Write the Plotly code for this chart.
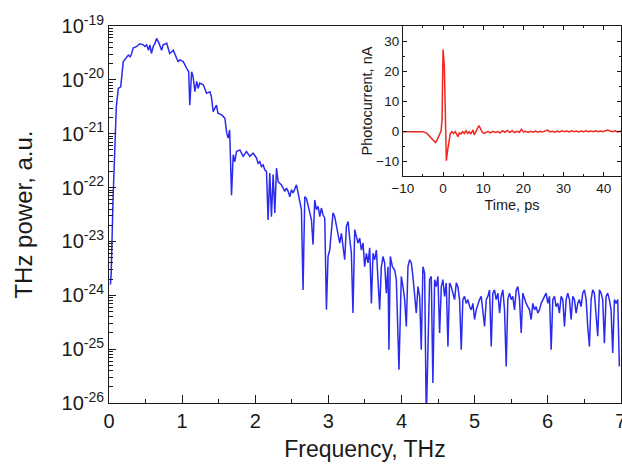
import plotly.graph_objects as go

# ---------------- main spectrum ----------------
freq_thz = [
    0.02, 0.03, 0.055, 0.08, 0.10, 0.127, 0.16, 0.195, 0.24, 0.265, 0.29, 0.31, 0.33, 0.38, 0.42,
    0.47, 0.49, 0.515, 0.54, 0.56, 0.58, 0.605, 0.63, 0.65, 0.675, 0.70, 0.72, 0.74, 0.79, 0.83,
    0.88, 0.925, 0.945, 0.97, 1.015, 1.06, 1.09, 1.105, 1.13, 1.15, 1.175, 1.20, 1.22, 1.24, 1.29,
    1.335, 1.38, 1.40, 1.425, 1.47, 1.49, 1.54, 1.585, 1.61, 1.63, 1.65, 1.676,
    1.699, 1.721, 1.744, 1.79, 1.835, 1.881, 1.926, 1.971, 2.017, 2.04, 2.063, 2.086, 2.108, 2.131,
    2.154, 2.176, 2.199, 2.222, 2.245, 2.268, 2.291, 2.313, 2.336, 2.359, 2.382, 2.404, 2.427, 2.45,
    2.473, 2.496, 2.518, 2.541, 2.564, 2.586, 2.609, 2.632, 2.654, 2.678, 2.70, 2.723, 2.746, 2.769,
    2.791, 2.814, 2.837, 2.86, 2.883, 2.905, 2.928, 2.951, 2.974, 2.996, 3.019, 3.042, 3.064, 3.087,
    3.11, 3.133, 3.156, 3.179, 3.201, 3.224, 3.247, 3.27, 3.292, 3.315, 3.337,
    3.361, 3.384, 3.406, 3.429, 3.452, 3.475, 3.497, 3.52, 3.543, 3.566, 3.589, 3.611, 3.634, 3.657,
    3.679, 3.702, 3.725, 3.748, 3.77, 3.793, 3.816, 3.829, 3.848, 3.876, 3.907, 3.93, 3.966, 3.998,
    4.021, 4.044, 4.067, 4.089, 4.112, 4.135, 4.157, 4.18, 4.203, 4.226, 4.249, 4.271, 4.294, 4.317,
    4.34, 4.385, 4.408, 4.43, 4.454, 4.477, 4.499, 4.522, 4.545, 4.567, 4.59, 4.613, 4.636, 4.658,
    4.681, 4.704, 4.727, 4.75, 4.772, 4.795, 4.818, 4.84, 4.863, 4.886, 4.909, 4.932, 4.955, 4.977,
    5.0, 5.023, 5.045, 5.068, 5.091, 5.114, 5.137, 5.16, 5.182, 5.205, 5.228, 5.25, 5.273, 5.296,
    5.319, 5.342, 5.364, 5.387, 5.41, 5.433, 5.455, 5.478, 5.501, 5.523, 5.546, 5.57, 5.592, 5.615,
    5.638, 5.66, 5.683, 5.706, 5.728, 5.751, 5.774, 5.797, 5.82, 5.843, 5.865, 5.888, 5.911, 5.933,
    5.956, 5.979, 6.002, 6.025, 6.048, 6.07, 6.093, 6.116, 6.138, 6.161, 6.184, 6.207, 6.23, 6.253,
    6.275, 6.298, 6.321, 6.343, 6.366, 6.389, 6.412, 6.434, 6.457, 6.48, 6.503, 6.526, 6.548, 6.571,
    6.594, 6.616, 6.639, 6.662, 6.685, 6.708, 6.73, 6.753, 6.776, 6.799, 6.821, 6.844, 6.867, 6.89,
    6.913, 6.936, 6.958, 6.981,
]
log10_power = [
    -23.8, -23.6, -22.23, -21.11, -20.5, -20.16, -20.13, -19.66, -19.57, -19.54, -19.57, -19.51, -19.41, -19.38, -19.33,
    -19.35, -19.38, -19.35, -19.45, -19.35, -19.51, -19.38, -19.32, -19.23, -19.29, -19.38, -19.45, -19.35, -19.32, -19.51,
    -19.45, -19.60, -19.66, -19.63, -19.66, -19.78, -19.85, -20.47, -19.85, -19.94, -20.22, -20.03, -20.16, -20.06, -20.09,
    -20.25, -20.22, -20.31, -20.59, -20.47, -20.62, -20.65, -20.71, -20.99, -21.08, -20.93, -22.14,
    -21.39, -21.52, -21.33, -21.30, -21.42, -21.33, -21.42, -21.36, -21.45, -21.55, -21.52, -21.61, -21.58, -21.67,
    -21.70, -22.60, -21.73, -22.54, -21.76, -22.47, -21.64, -21.89, -21.92, -21.95, -22.01, -22.07, -22.01, -22.07,
    -22.17, -22.04, -22.10, -22.01, -21.95, -22.10, -22.23, -22.41, -23.90, -22.17, -22.20, -22.32, -22.47, -22.60,
    -23.06, -22.23, -22.41, -22.35, -22.54, -22.38, -22.51, -22.57, -24.27, -23.28, -23.16, -22.78, -22.47, -22.54,
    -22.72, -22.91, -23.03, -22.85, -23.09, -23.34, -22.72, -22.63, -22.94, -23.22, -24.33,
    -22.78, -22.91, -23.03, -22.94, -23.16, -23.03, -23.47, -23.22, -23.40, -23.12, -24.15, -23.22, -23.34, -23.16,
    -23.84, -24.27, -23.47, -23.28, -23.40, -23.96, -23.47, -25.01, -23.28, -23.47, -23.53, -23.71, -25.38, -23.65,
    -23.84, -24.08, -24.58, -23.47, -23.34, -23.40, -23.65, -24.08, -24.33, -23.84, -24.02, -25.01, -23.47, -23.59,
    -26.3, -23.71, -23.65, -25.63, -23.71, -23.84, -23.65, -24.70, -23.84, -23.71, -24.02, -23.77, -24.95, -23.77,
    -23.84, -23.96, -24.08, -23.77, -23.84, -24.08, -25.01, -24.08, -24.02, -24.15, -24.08, -24.21, -24.27, -24.15,
    -24.45, -24.27, -24.15, -24.08, -24.02, -24.27, -24.58, -24.08, -24.02, -23.90, -24.95, -23.96, -23.90, -24.08,
    -23.96, -24.33, -24.02, -23.90, -24.27, -25.32, -24.08, -23.96, -24.08, -24.02, -24.27, -23.90, -23.84, -24.08,
    -24.70, -23.96, -24.08, -24.15, -24.21, -24.27, -24.45, -24.15, -24.27, -24.21, -24.33, -24.27, -24.15, -24.08,
    -24.02, -23.96, -24.15, -24.02, -25.01, -24.08, -24.02, -24.21, -24.15, -24.33, -24.02, -24.08, -24.58, -24.08,
    -23.96, -24.08, -24.45, -24.02, -24.08, -24.33, -24.15, -24.08, -24.21, -23.96, -23.90, -24.08, -24.58, -24.95,
    -24.08, -23.90, -23.96, -24.39, -24.76, -23.90, -23.96, -24.08, -24.89, -24.02, -23.96, -24.08, -24.27, -25.07,
    -24.08, -24.15, -24.08, -25.32,
]
power = [10 ** v for v in log10_power]

# ---------------- inset time trace ----------------
time_ps = [
    -10, -5, -4, -3.15, -2.33, -1.9, -1.5, -1.08, -0.5, -0.25, 0, 0.32, 0.57, 0.82, 1.15, 1.48, 1.81,
    2.23, 2.64, 3.05, 3.47, 3.7, 4.04, 4.45, 4.87, 5.28, 5.7, 6.11, 6.53, 6.94, 7.44, 7.77, 8.18,
    8.6, 8.93, 9.26, 9.67, 10.09, 10.6, 11.2, 11.8, 12.4, 13.0, 13.6, 14.2, 14.8, 15.4, 16.0, 16.6,
    17.2, 17.8, 18.4, 19.0, 19.5, 20.0, 20.6, 21.2, 21.8, 22.4, 23.0, 23.6, 24.2, 24.8, 25.4, 26.0,
    26.6, 27.2, 27.8, 28.4, 29.0, 29.6, 30.2, 30.8, 31.4, 32.0, 32.6, 33.2, 33.8, 34.4, 35.0, 35.6,
    36.2, 36.8, 37.4, 38.0, 38.6, 39.2, 39.8, 40.4, 41.0, 41.6, 42.2, 42.8, 43.4, 44.0, 44.6,
]
current_na = [
    -0.2, -0.2, -0.8, -1.9, -3.0, -3.8, -3.0, -1.7, 0.0, 3.7, 27.2, 21.5, -0.8, -9.9, -6.3, -3.5, -0.8,
    -0.2, -0.8, -0.2, -1.3, -1.9, -0.6, -1.0, -0.2, -0.8, 0.1, -0.8, -0.2, -1.0, 0.4, -1.3, -0.2,
    1.0, 1.8, 1.0, -0.2, -0.8, -0.5, -0.2, -0.6, -0.1, -0.5, -0.2, -0.6, 0.1, -0.4, 0.2, -0.5,
    0.1, -0.5, -0.1, -0.4, 0.6, -0.3, -0.1, -0.5, -0.1, -0.4, 0.0, -0.4, -0.1, -0.3, 0.0, 0.3,
    -0.3, -0.1, -0.4, 0.0, -0.3, 0.1, -0.2, 0.0, -0.3, 0.1, -0.2, 0.0, -0.3, 0.0, -0.2, 0.1,
    -0.2, 0.0, -0.2, 0.1, -0.2, 0.0, -0.2, 0.1, 0.3, 0.0, -0.2, 0.1, -0.3, -0.1, -0.3,
]

x_ticks = [0, 1, 2, 3, 4, 5, 6, 7]
y_exponents = [-26, -25, -24, -23, -22, -21, -20, -19]
y_tickvals = [10 ** e for e in y_exponents]
y_ticktext = ["10<sup>%d</sup>" % e for e in y_exponents]
y_minor_vals = [k * 10 ** e for e in y_exponents[:-1] for k in range(2, 10)]

FONT = "Liberation Sans, Arial, sans-serif"
INK = "#1a1a1a"

fig = go.Figure()
fig.add_trace(go.Scatter(x=freq_thz, y=power, mode="lines",
                         line=dict(color="#2b2bf0", width=1.5),
                         xaxis="x", yaxis="y", showlegend=False))
fig.add_trace(go.Scatter(x=time_ps, y=current_na, mode="lines",
                         line=dict(color="#f0281e", width=1.5),
                         xaxis="x2", yaxis="y2", showlegend=False))

fig.update_layout(
    width=622, height=471,
    margin=dict(l=109, r=1, t=26, b=68, autoexpand=False),
    paper_bgcolor="white", plot_bgcolor="white",
    font=dict(family=FONT, color=INK),
    xaxis=dict(
        domain=[0, 1], range=[0, 7.003], automargin=False,
        tickmode="array", tickvals=x_ticks, ticktext=[str(v) for v in x_ticks],
        ticklabeloverflow="allow",
        ticks="inside", ticklen=8, tickwidth=1, tickcolor=INK,
        minor=dict(dtick=0.5, tick0=0, ticks="inside", ticklen=4, tickcolor=INK, showgrid=False),
        showline=True, linecolor=INK, linewidth=1, mirror=True,
        showgrid=False, zeroline=False,
        tickfont=dict(size=20),
        title=dict(text="Frequency, THz", font=dict(size=23), standoff=9),
    ),
    yaxis=dict(
        domain=[0, 1], type="log", range=[-26, -19], automargin=False,
        tickmode="array", tickvals=y_tickvals, ticktext=y_ticktext,
        ticks="inside", ticklen=7, tickwidth=1, tickcolor=INK,
        minor=dict(tickmode="array", tickvals=y_minor_vals, ticks="inside", ticklen=4,
                   tickcolor=INK, showgrid=False),
        showline=True, linecolor=INK, linewidth=1, mirror=True,
        showgrid=False, zeroline=False,
        tickfont=dict(size=20),
        title=dict(text="THz power, a.u.", font=dict(size=24), standoff=22),
    ),
    xaxis2=dict(
        domain=[0.574, 1], anchor="y2", range=[-10, 44.3], dtick=10, tick0=0, automargin=False,
        ticks="inside", ticklen=4, tickcolor=INK,
        minor=dict(dtick=5, ticks="inside", ticklen=2, tickcolor=INK, showgrid=False),
        showline=True, linecolor=INK, linewidth=1, mirror="ticks",
        showgrid=False, zeroline=False,
        tickfont=dict(size=13.5),
        title=dict(text="Time, ps", font=dict(size=14.5), standoff=4),
    ),
    yaxis2=dict(
        domain=[0.602, 1], anchor="x2", range=[-15, 35], dtick=10, tick0=0, automargin=False,
        ticks="inside", ticklen=4, tickcolor=INK,
        minor=dict(dtick=5, ticks="inside", ticklen=2, tickcolor=INK, showgrid=False),
        showline=True, linecolor=INK, linewidth=1, mirror="ticks",
        showgrid=False, zeroline=False,
        tickfont=dict(size=13.5),
        title=dict(text="Photocurrent, nA", font=dict(size=14.5), standoff=0),
    ),
)

fig.write_html("out.html")
